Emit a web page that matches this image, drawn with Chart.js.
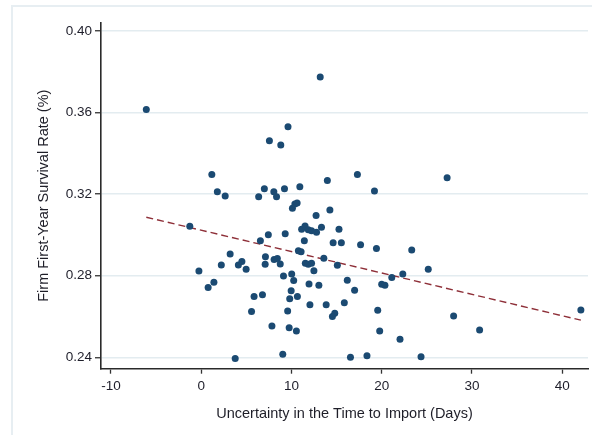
<!DOCTYPE html>
<html>
<head>
<meta charset="utf-8">
<script src="https://cdn.jsdelivr.net/npm/chart.js@4/dist/chart.umd.min.js"></script>
<style>
  html, body { margin: 0; padding: 0; background: #ffffff; overflow: hidden; width: 592px; height: 435px; }
  #frame { position: absolute; left: 11px; top: 5px; width: 900px; height: 900px; border: 2px solid #e7eef2; box-sizing: border-box; }
  #c { position: absolute; left: 0; top: 0; }
</style>
</head>
<body>
<div id="frame"></div>
<canvas id="c" width="592" height="435"></canvas>
<script>
// ---- Data ----
const uncertaintyDays = [
  -6.08, 13.19, 9.62, 7.56, 8.82, 1.18, 1.79, 2.66, 6.37, 7.00,
  8.05, 8.35, 9.23, 10.93, 13.98, 17.31, 19.20, 27.25, 10.11, 10.38,
  10.63, 12.73, 14.26, -1.26, 7.44, 6.56, 3.21, 2.23, 4.12, 4.51,
  4.98, 7.12, 7.09, 8.08, 8.44, 8.76, 9.31, -0.25, 0.77, 1.41,
  5.86, 6.79, 5.58, 7.84, 3.77, 9.12, 10.03, 10.25, 9.97, 9.81,
  9.58, 9.75, 10.55, 9.04, 10.77, 11.07, 11.13, 11.51, 11.87, 12.23,
  12.78, 13.33, 15.27, 11.43, 14.62, 15.53, 17.66, 19.42, 23.33, 11.54,
  11.87, 12.23, 13.59, 15.09, 12.49, 16.19, 22.34, 21.12, 11.95, 13.04,
  20.00, 20.36, 17.00, 10.66, 15.86, 12.05, 13.85, 14.80, 14.54, 19.56,
  19.78, 22.03, 16.54, 18.37, 24.36, 25.16, 27.97, 30.85, 42.07
];
const survivalRate = [
  0.3615, 0.3775, 0.3531, 0.3462, 0.3441, 0.3296, 0.3212, 0.3191, 0.3187, 0.3226,
  0.3212, 0.3187, 0.3227, 0.3236, 0.3267, 0.3297, 0.3216, 0.3281, 0.3131, 0.3152,
  0.3157, 0.3096, 0.3122, 0.3043, 0.3001, 0.2972, 0.2907, 0.2853, 0.2853, 0.2870,
  0.2832, 0.2893, 0.2856, 0.2880, 0.2885, 0.2858, 0.3006, 0.2823, 0.2742, 0.2768,
  0.2698, 0.2707, 0.2624, 0.2554, 0.2394, 0.2799, 0.2809, 0.2777, 0.2726, 0.2687,
  0.2627, 0.2545, 0.2529, 0.2415, 0.2923, 0.2918, 0.3028, 0.3044, 0.3025, 0.3021,
  0.3013, 0.3038, 0.3028, 0.2972, 0.2962, 0.2962, 0.2952, 0.2933, 0.2926, 0.2861,
  0.2856, 0.2861, 0.2886, 0.2851, 0.2824, 0.2778, 0.2809, 0.2791, 0.2760, 0.2753,
  0.2758, 0.2753, 0.2729, 0.2698, 0.2668, 0.2658, 0.2658, 0.2616, 0.2600, 0.2631,
  0.2529, 0.2489, 0.2400, 0.2408, 0.2403, 0.2832, 0.2603, 0.2534, 0.2632
];
// Fitted line end points
const fitDays = [-6.08, 42.07];
const fitRate = [0.3087, 0.2582];

const xTickValues = [-10, 0, 10, 20, 30, 40];
const yTickValues = [0.24, 0.28, 0.32, 0.36, 0.40];

const xTitle = 'Uncertainty in the Time to Import (Days)';
const yTitle = 'Firm First-Year Survival Rate (%)';

// ---- Chart ----
const FONT = 'Liberation Sans, Arial, Helvetica, sans-serif';
const scatterPts = uncertaintyDays.map((d, i) => ({ x: d, y: survivalRate[i] }));
const fitPts = fitDays.map((d, i) => ({ x: d, y: fitRate[i] }));

new Chart(document.getElementById('c'), {
  type: 'scatter',
  data: {
    datasets: [
      {
        label: 'Fitted values',
        type: 'line',
        data: fitPts,
        borderColor: '#8e2f38',
        borderWidth: 1.4,
        borderDash: [7, 4],
        pointRadius: 0,
        fill: false,
        order: 2
      },
      {
        label: 'Survival rate',
        data: scatterPts,
        backgroundColor: '#1b4a72',
        borderColor: '#1b4a72',
        pointStyle: 'circle',
        pointRadius: 3.5,
        borderWidth: 0,
        order: 1
      }
    ]
  },
  options: {
    responsive: false,
    animation: false,
    devicePixelRatio: 1,
    layout: { padding: { top: 22.7, right: 0, bottom: 0, left: 0 } },
    plugins: { legend: { display: false }, tooltip: { enabled: false } },
    scales: {
      x: {
        type: 'linear',
        min: -11.1,
        max: 42.86,
        afterBuildTicks: s => { s.ticks = xTickValues.map(v => ({ value: v })); },
        afterFit: s => { s.height = 66.3; },
        ticks: {
          font: { family: FONT, size: 13.5 },
          color: '#1e1e2a',
          padding: 4,
          maxRotation: 0,
          autoSkip: false
        },
        grid: {
          drawOnChartArea: false,
          drawTicks: true,
          tickLength: 5,
          tickColor: '#333333',
          tickWidth: 1.3
        },
        border: { display: true, color: '#2a2a2a', width: 1.6 },
        title: {
          display: true,
          text: xTitle,
          font: { family: FONT, size: 14.5 },
          color: '#1e1e28',
          padding: { top: 0, bottom: 12.3 }
        }
      },
      y: {
        type: 'linear',
        min: 0.2344,
        max: 0.4041,
        afterBuildTicks: s => { s.ticks = yTickValues.map(v => ({ value: v })); },
        afterFit: s => { s.width = 101; },
        ticks: {
          font: { family: FONT, size: 13.5 },
          color: '#1e1e2a',
          padding: 3,
          callback: v => Number(v).toFixed(2),
          autoSkip: false
        },
        grid: {
          color: '#e3ecf0',
          lineWidth: 1.5,
          drawTicks: true,
          tickLength: 6,
          tickColor: '#333333',
          tickWidth: 1.3
        },
        border: { display: true, color: '#2a2a2a', width: 1.6 },
        title: {
          display: true,
          text: yTitle,
          font: { family: FONT, size: 14.5 },
          color: '#1e1e28',
          padding: { top: 35, bottom: 0 }
        }
      }
    }
  }
});
</script>
</body>
</html>
